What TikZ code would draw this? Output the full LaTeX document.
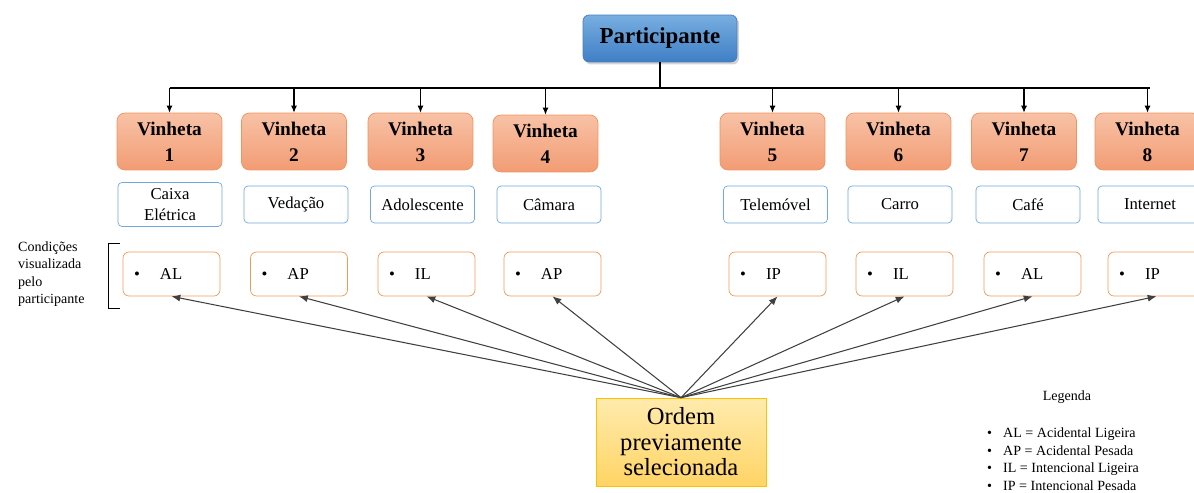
\documentclass[tikz,border=0pt]{standalone}
\usepackage{fontspec}
\setmainfont{Liberation Serif}
\usetikzlibrary{arrows.meta,shadows}

\definecolor{partTop}{HTML}{78AEE0}
\definecolor{partBot}{HTML}{3F7FC6}
\definecolor{partLine}{HTML}{4A7EBB}
\definecolor{vinTop}{HTML}{F8C2A6}
\definecolor{vinBot}{HTML}{F29C74}
\definecolor{vinLine}{HTML}{F0925E}
\definecolor{nomeLine}{HTML}{6FA8DC}
\definecolor{condLine}{HTML}{F29A55}
\definecolor{ordTop}{HTML}{FFEBAD}
\definecolor{ordBot}{HTML}{FFD465}
\definecolor{ordLine}{HTML}{FFC000}
\definecolor{seta}{HTML}{404040}

\tikzset{
  part/.style={draw=partLine, top color=partTop, bottom color=partBot, rounded corners=0.12cm,
    minimum width=3.08cm, minimum height=0.94cm, font=\fontsize{13}{15}\selectfont\bfseries,
    drop shadow={opacity=0.35, shadow xshift=0.04cm, shadow yshift=-0.05cm}},
  vinheta/.style={draw=vinLine, top color=vinTop, bottom color=vinBot, rounded corners=0.16cm,
    minimum width=2.1cm, minimum height=1.14cm, align=center, font=\fontsize{11}{14.8}\selectfont\bfseries},
  nome/.style={draw=nomeLine, fill=white, rounded corners=0.08cm, minimum width=2.08cm,
    minimum height=0.74cm, align=center, font=\fontsize{9.5}{12}\selectfont},
  cond/.style={draw=condLine, fill=white, rounded corners=0.12cm, text width=1.5cm,
    inner xsep=0.22cm, minimum height=0.88cm, align=left, font=\fontsize{9.5}{12}\selectfont},
  ordem/.style={draw=ordLine, top color=ordTop, bottom color=ordBot, minimum width=3.4cm,
    minimum height=1.76cm, align=center, font=\fontsize{14}{14.5}\selectfont},
  nota/.style={align=left, font=\fontsize{8}{10}\selectfont},
}

\newcommand{\ponto}[1]{\makebox[0.52cm][l]{\textbullet}#1}
\newcommand{\legitem}[1]{\makebox[0.32cm][l]{\textbullet}#1}

\begin{document}
\begin{tikzpicture}[x=0.02cm,y=-0.02cm]

\useasboundingbox (0,0) rectangle (1194,493);
\clip (0,0) rectangle (1194,493);

\node[part] (part) at (660,38.5) {Participante};

\node[vinheta] (v1) at (169.5,141.5) {Vinheta\\1};
\node[vinheta] (v2) at (294,141.5) {Vinheta\\2};
\node[vinheta] (v3) at (420.5,141.5) {Vinheta\\3};
\node[vinheta] (v4) at (545.5,143.5) {Vinheta\\4};
\node[vinheta] (v5) at (772.5,141.5) {Vinheta\\5};
\node[vinheta] (v6) at (898.5,141.5) {Vinheta\\6};
\node[vinheta] (v7) at (1024,141.5) {Vinheta\\7};
\node[vinheta] (v8) at (1147.5,141.5) {Vinheta\\8};

\node[nome] (n1) at (170,204.5) {Caixa\\Elétrica};
\node[nome] (n2) at (296,204.5) {Vedação};
\node[nome] (n3) at (422.5,204.5) {Adolescente};
\node[nome] (n4) at (549,204.5) {Câmara};
\node[nome] (n5) at (775.5,204.5) {Telemóvel};
\node[nome] (n6) at (900,204.5) {Carro};
\node[nome] (n7) at (1028,204.5) {Café};
\node[nome] (n8) at (1150,204.5) {Internet};

\node[cond] (c1) at (171.5,274) {\ponto{AL}};
\node[cond] (c2) at (299,274) {\ponto{AP}};
\node[cond] (c3) at (426.5,274) {\ponto{IL}};
\node[cond] (c4) at (552.5,274) {\ponto{AP}};
\node[cond] (c5) at (777.5,274) {\ponto{IP}};
\node[cond] (c6) at (904.5,274) {\ponto{IL}};
\node[cond] (c7) at (1032.5,274) {\ponto{AL}};
\node[cond] (c8) at (1156.5,274) {\ponto{IP}};

\node[ordem] (ordem) at (681,442) {Ordem\\previamente\\selecionada};

\node[nota, anchor=west] (cond) at (12,274) {Condições\\visualizada\\pelo\\participante};
\draw[black] (120,243) -- (108,243) -- (108,308) -- (120,308);

\node[nota] (leg) at (1067,397) {Legenda};
\node[nota, anchor=west] (lista) at (981,459) {\legitem{AL = Acidental Ligeira}\\\legitem{AP = Acidental Pesada}\\\legitem{IL = Intencional Ligeira}\\\legitem{IP = Intencional Pesada}};

\coordinate (busL) at (169.5,88);
\coordinate (busR) at (1150,88);
\draw[line width=1.1pt] (part.south) -- (part.south |- busL);
\draw[line width=1.1pt] (busL) -- (busR);
\draw[semithick,-{Latex[length=4pt,width=3.5pt]}] (v1.north |- busL) -- (v1.north);
\draw[semithick,-{Latex[length=4pt,width=3.5pt]}] (v2.north |- busL) -- (v2.north);
\draw[semithick,-{Latex[length=4pt,width=3.5pt]}] (v3.north |- busL) -- (v3.north);
\draw[semithick,-{Latex[length=4pt,width=3.5pt]}] (v4.north |- busL) -- (v4.north);
\draw[semithick,-{Latex[length=4pt,width=3.5pt]}] (v5.north |- busL) -- (v5.north);
\draw[semithick,-{Latex[length=4pt,width=3.5pt]}] (v6.north |- busL) -- (v6.north);
\draw[semithick,-{Latex[length=4pt,width=3.5pt]}] (v7.north |- busL) -- (v7.north);
\draw[semithick,-{Latex[length=4pt,width=3.5pt]}] (v8.north |- busL) -- (v8.north);

\draw[seta,semithick,-{Latex[length=5pt,width=4pt]}] (ordem.north) -- (c1.south);
\draw[seta,semithick,-{Latex[length=5pt,width=4pt]}] (ordem.north) -- (c2.south);
\draw[seta,semithick,-{Latex[length=5pt,width=4pt]}] (ordem.north) -- (c3.south);
\draw[seta,semithick,-{Latex[length=5pt,width=4pt]}] (ordem.north) -- (c4.south);
\draw[seta,semithick,-{Latex[length=5pt,width=4pt]}] (ordem.north) -- (c5.south);
\draw[seta,semithick,-{Latex[length=5pt,width=4pt]}] (ordem.north) -- (c6.south);
\draw[seta,semithick,-{Latex[length=5pt,width=4pt]}] (ordem.north) -- (c7.south);
\draw[seta,semithick,-{Latex[length=5pt,width=4pt]}] (ordem.north) -- (c8.south);

\end{tikzpicture}
\end{document}
